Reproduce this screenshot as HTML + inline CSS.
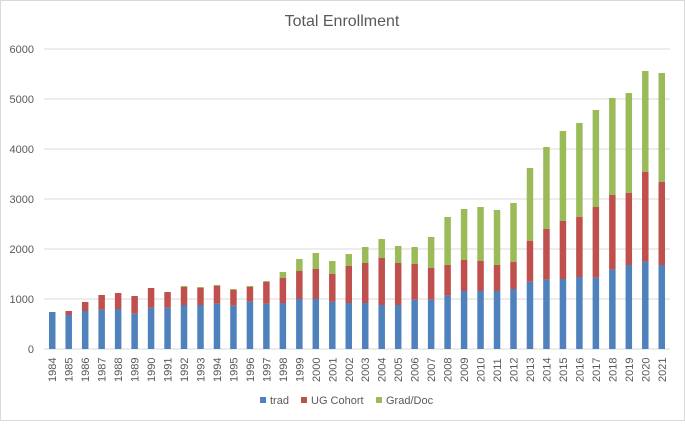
<!DOCTYPE html>
<html><head><meta charset="utf-8"><style>
body{margin:0;background:#fff;font-family:"Liberation Sans",sans-serif}
svg text{font-family:"Liberation Sans",sans-serif;fill:#595959}
</style></head><body>
<svg id="chart" width="685" height="421" viewBox="0 0 685 421" xmlns="http://www.w3.org/2000/svg">
<rect x="0.5" y="0.5" width="684" height="420" fill="#fff" stroke="#d9d9d9"/>
<text x="342" y="26" text-anchor="middle" font-size="16">Total Enrollment</text>
<g id="grid"></g><g id="bars"></g><g id="xlabels"></g>
<g font-size="11">
<rect x="260" y="397" width="6" height="6" fill="#4f81bd"/>
<text x="270" y="404" font-size="11">trad</text>
<rect x="301" y="397" width="6" height="6" fill="#c0504d"/>
<text x="311" y="404" font-size="11">UG Cohort</text>
<rect x="376" y="397" width="6" height="6" fill="#9bbb59"/>
<text x="386" y="404" font-size="11">Grad/Doc</text>
</g>
</svg>
<script>
const years=[1984,1985,1986,1987,1988,1989,1990,1991,1992,1993,1994,1995,1996,1997,1998,1999,2000,2001,2002,2003,2004,2005,2006,2007,2008,2009,2010,2011,2012,2013,2014,2015,2016,2017,2018,2019,2020,2021];
const trad=[740,680,760,787,800,707,827,827,880,880,907,867,947,907,920,1000,1000,947,920,920,880,880,987,987,1067,1160,1160,1160,1200,1347,1387,1400,1440,1427,1587,1680,1747,1680];
const ugCohort=[0,80,180,293,320,353,393,313,360,340,353,313,293,433,500,560,600,553,740,800,940,840,713,633,613,620,600,520,540,813,1013,1160,1200,1413,1493,1440,1793,1660];
const gradDoc=[0,0,0,0,0,0,0,0,20,20,20,20,20,20,120,240,320,260,240,320,380,340,340,620,960,1020,1080,1100,1180,1460,1640,1800,1880,1940,1940,2000,2020,2180];
const yTicks=[0,1000,2000,3000,4000,5000,6000];
const NS='http://www.w3.org/2000/svg';
const x0=44,x1=670,yBase=349,yTop=49,yMax=6000;
const bw=6.5;
function yScale(v){return yBase-(v/yMax)*(yBase-yTop);}
function xScale(i){return x0+(x1-x0)*(i+0.5)/years.length;}
function mk(t,a){const e=document.createElementNS(NS,t);for(const k in a)e.setAttribute(k,a[k]);return e;}
const grid=document.getElementById('grid');
yTicks.forEach(v=>{
  const l=mk('line',{x1:x0,x2:x1,y1:yScale(v),y2:yScale(v),stroke:'#d9d9d9','stroke-width':1});
  
  
  grid.appendChild(l);
  const t=mk('text',{x:34,y:yScale(v)+4,'text-anchor':'end','font-size':11});
  t.textContent=v;
  
  
  grid.appendChild(t);
});
const bars=document.getElementById('bars'),xl=document.getElementById('xlabels');
years.forEach((yr,i)=>{
  const cx=xScale(i);
  let base=0;
  [[trad,'#4f81bd','trad'],[ugCohort,'#c0504d','ug'],[gradDoc,'#9bbb59','grad']].forEach(([arr,c,n])=>{
    const v=arr[i];
    if(v>0){
      const r=mk('rect',{x:cx-bw/2,y:yScale(base+v),width:bw,height:yScale(base)-yScale(base+v),fill:c});
      
      
      bars.appendChild(r);
    }
    base+=v;
  });
  const t=mk('text',{transform:'translate('+(cx+4)+',382) rotate(-90)','font-size':11});
  t.textContent=yr;
  
  
  xl.appendChild(t);
});
</script>
</body></html>
